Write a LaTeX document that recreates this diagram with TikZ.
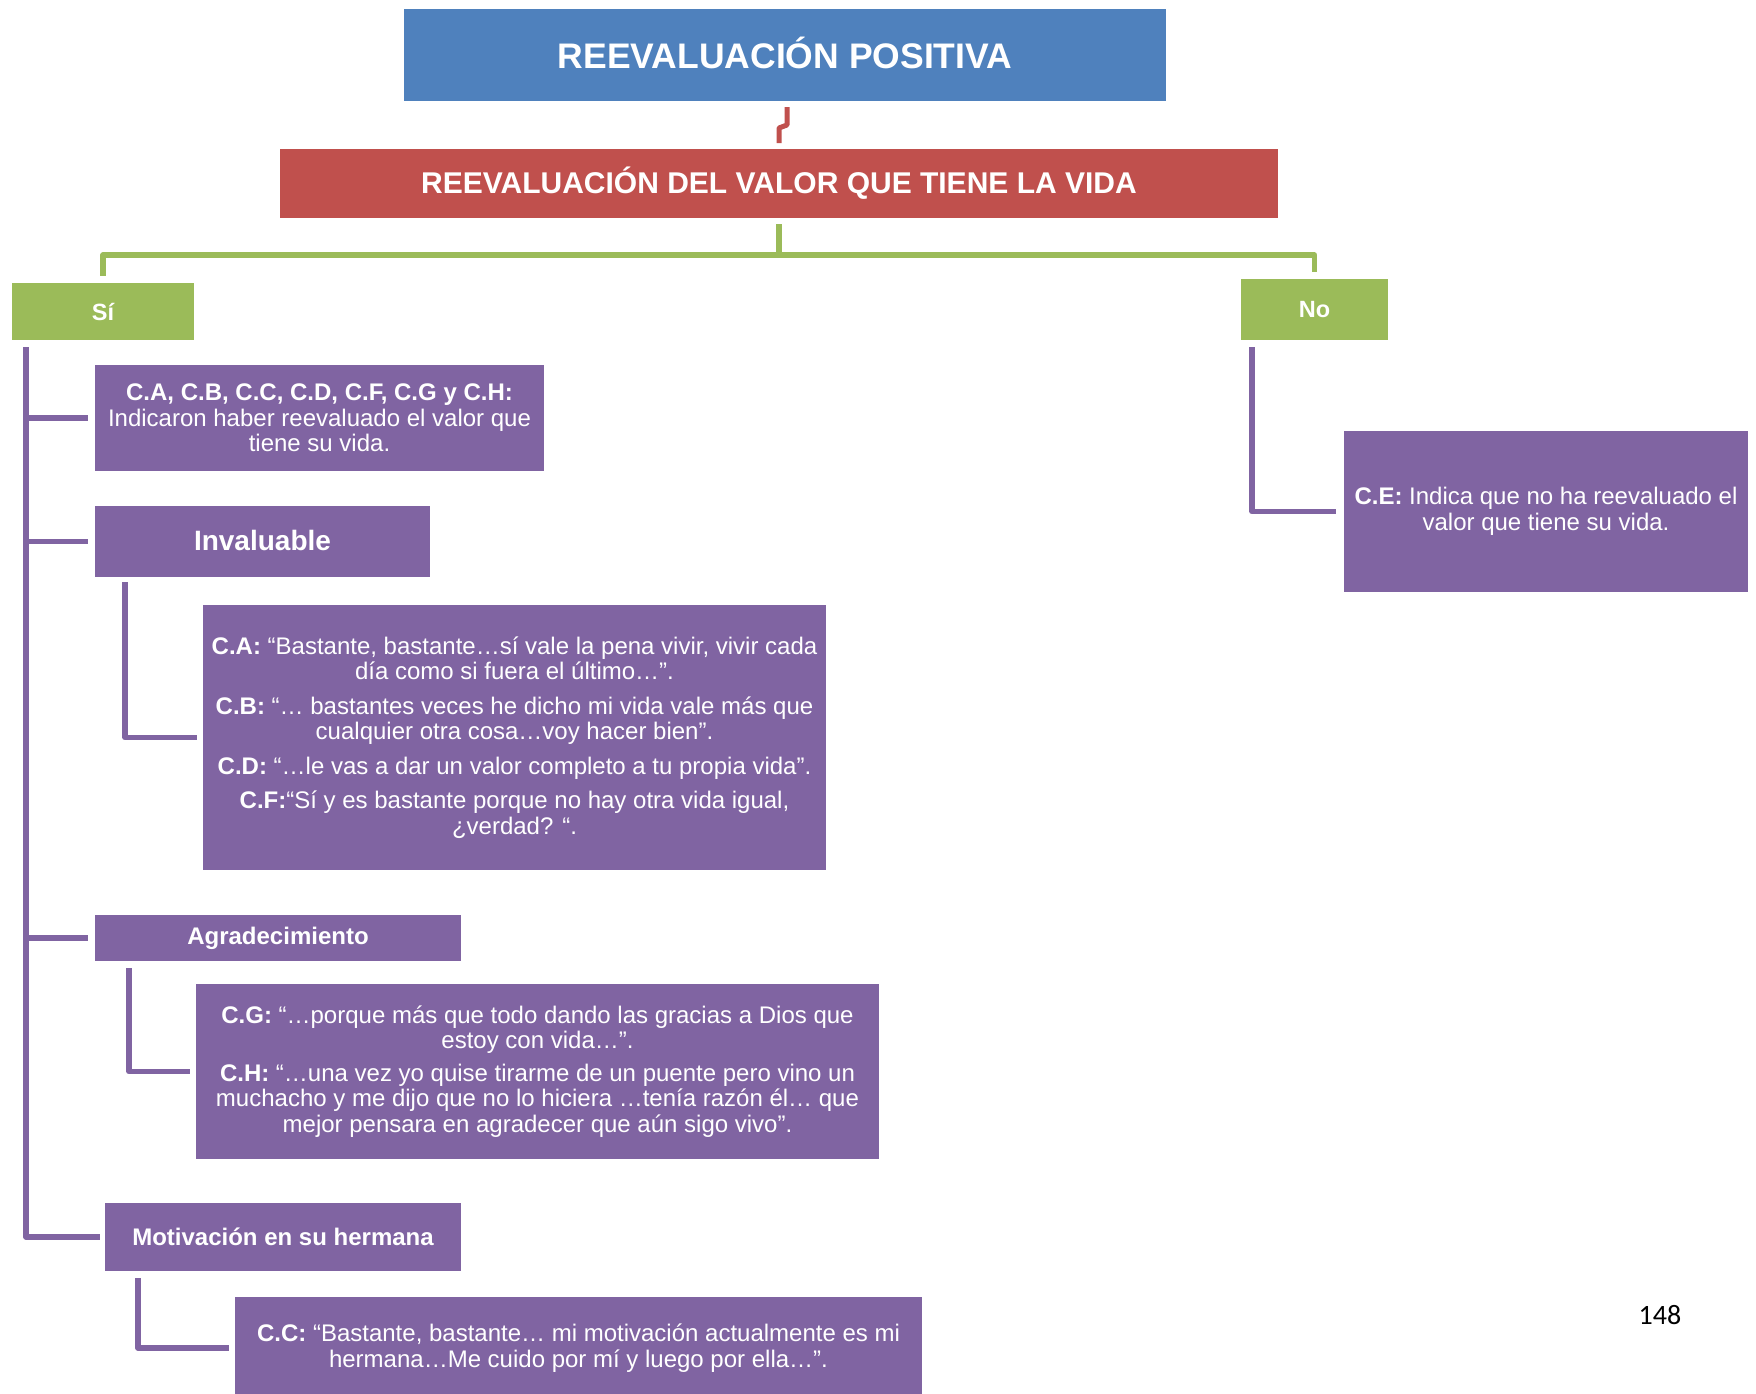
\documentclass[tikz,border=0pt]{standalone}
\usepackage{fontspec}
\setmainfont{Liberation Sans}
\newfontfamily\pagefont{Carlito}
\usetikzlibrary{calc}
\definecolor{hdrblue}{HTML}{4F81BD}
\definecolor{hdrred}{HTML}{C0504D}
\definecolor{optgreen}{HTML}{9BBB59}
\definecolor{itempurple}{HTML}{8064A2}

\begin{document}
\begin{tikzpicture}[x=1pt,y=-1pt,
  cell/.style={inner sep=0pt, outer sep=0pt, text=white, align=center, anchor=center},
  bluecell/.style={cell, fill=hdrblue, font=\bfseries\fontsize{35.5}{38}\selectfont},
  redcell/.style={cell, fill=hdrred, font=\bfseries\fontsize{30}{33}\selectfont},
  greencell/.style={cell, fill=optgreen, font=\bfseries\fontsize{23.5}{26}\selectfont},
  purplecell/.style={cell, fill=itempurple, font=\fontsize{24}{25.5}\selectfont},
  headcell/.style={cell, fill=itempurple, font=\bfseries\fontsize{24}{26}\selectfont},
  redlink/.style={draw=hdrred, line width=5pt, line join=round},
  greenlink/.style={draw=optgreen, line width=5.5pt, line join=round},
  purplelink/.style={draw=itempurple, line width=5.5pt, line join=round},
]
\clip (0,0) rectangle (1756,1393);
\fill[white] (0,0) rectangle (1756,1393);

% headers
\node[bluecell, minimum width=762pt, minimum height=92pt] (pos) at (785,55) {\raisebox{5pt}{REEVALUACIÓN POSITIVA}};
\node[redcell, minimum width=998pt, minimum height=69pt] (vida) at (779,183.5) {REEVALUACIÓN DEL VALOR QUE TIENE LA VIDA};

% yes / no
\node[greencell, minimum width=182pt, minimum height=57pt] (si) at (103,311.5) {Sí};
\node[greencell, minimum width=147pt, minimum height=61pt] (no) at (1314.5,309.5) {No};

% yes branch
\node[purplecell, minimum width=449pt, minimum height=106pt] (lista) at (319.5,418)
  {\textbf{C.A, C.B, C.C, C.D, C.F, C.G  y C.H:}\\
   Indicaron haber reevaluado  el valor que\\
   tiene su vida.};
\node[headcell, font=\bfseries\fontsize{28}{30}\selectfont, minimum width=335pt, minimum height=71pt] (inv) at (262.5,541.5) {\raisebox{2pt}{Invaluable}};
\node[purplecell, minimum width=623pt, minimum height=265pt] (q1) at (514.5,737.5)
  {\textbf{C.A:} “Bastante,  bastante…sí vale la pena vivir, vivir cada\\
   día como si fuera el último…”.\\[9pt]
   \textbf{C.B:} “… bastantes  veces he dicho mi vida vale más que\\
   cualquier otra cosa…voy hacer bien”.\\[9pt]
   \textbf{C.D:} “…le vas a dar un valor completo  a tu propia vida”.\\[9pt]
   \textbf{C.F:}“Sí y es bastante  porque no hay otra vida igual,\\
   ¿verdad? “.};
\node[headcell, minimum width=366pt, minimum height=46pt] (agr) at (278,938) {Agradecimiento};
\node[purplecell, minimum width=683pt, minimum height=175pt] (q2) at (537.5,1071.5)
  {\textbf{C.G:} “…porque más que todo dando las gracias a Dios que\\
   estoy con vida…”.\\[7pt]
   \textbf{C.H:} “…una vez yo quise tirarme de un puente  pero vino un\\
   muchacho y me dijo que no lo hiciera …tenía  razón él… que\\
   mejor pensara en agradecer que aún sigo vivo”.};
\node[headcell, minimum width=356pt, minimum height=68pt] (mot) at (283,1237) {Motivación  en su hermana};
\node[purplecell, minimum width=687pt, minimum height=102pt] (q3) at (578.5,1348)
  {\textbf{C.C:} “Bastante, bastante…  mi motivación actualmente  es mi\\
   hermana…Me cuido por mí y luego por ella…”.};

% no branch
\node[purplecell, minimum width=404pt, minimum height=161pt] (ce) at (1546,511.5)
  {\textbf{C.E:} Indica que  no ha reevaluado el\\
   valor que tiene  su vida.};

% page number
\node[font=\pagefont\fontsize{28}{30}\selectfont, text=black] (pagenum) at (1660,1315) {148};

% connectors
\draw[redlink] ($(pos.south)+(2,6)$) -- ++(0,18) -- ++(-8,3) -- ($(vida.north)+(0,-6)$);

\coordinate (gsplit) at ($(vida.south)+(0,37)$);
\draw[greenlink] ($(vida.south)+(0,6)$) -- (gsplit);
\draw[greenlink, shorten >=7pt] (gsplit) -| (si.north);
\draw[greenlink, shorten >=7pt] (gsplit) -| (no.north);

\coordinate (spine) at ($(si.south west)+(14,7)$);
\draw[purplelink, shorten >=5pt] (spine) |- (mot.west);
\draw[purplelink, shorten >=7pt] (spine |- lista.west) -- (lista.west);
\draw[purplelink, shorten >=7pt] (spine |- inv.west) -- (inv.west);
\draw[purplelink, shorten >=7pt] (spine |- agr.west) -- (agr.west);

\draw[purplelink, shorten >=6pt] ($(inv.south west)+(30,5)$) |- (q1.west);
\draw[purplelink, shorten >=6pt] ($(agr.south west)+(34,7)$) |- (q2.west);
\draw[purplelink, shorten >=6pt] ($(mot.south west)+(33,7)$) |- (q3.west);
\draw[purplelink, shorten >=8pt] ($(no.south west)+(11,7)$) |- (ce.west);
\end{tikzpicture}
\end{document}
